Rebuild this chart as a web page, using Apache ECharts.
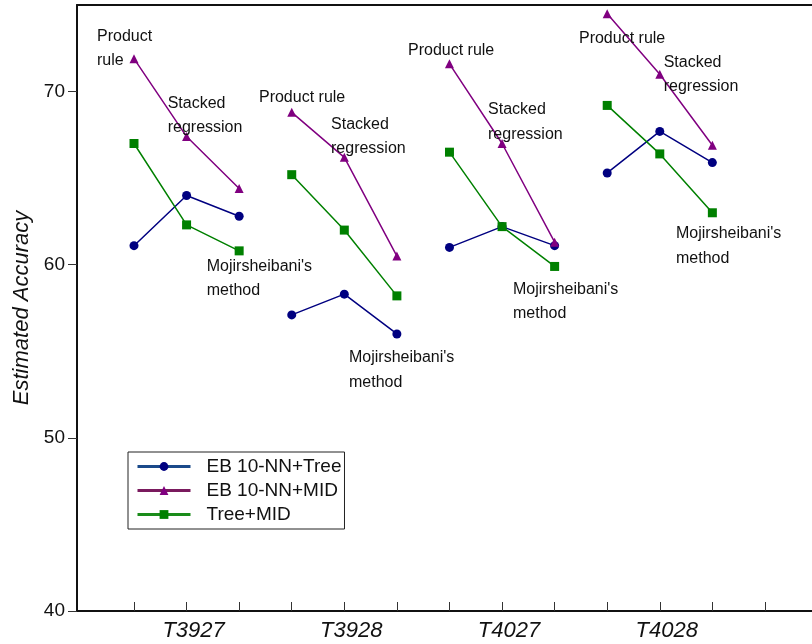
<!DOCTYPE html>
<html><head><meta charset="utf-8">
<script src="https://cdn.jsdelivr.net/npm/echarts@6/dist/echarts.min.js"></script>
<style>html,body{margin:0;padding:0;background:#fff}#c{width:812px;height:644px}</style>
</head><body><div id="c"></div>
<script>
// ---- data ----
const groups = ['T3927', 'T3928', 'T4027', 'T4028'];
const methods = ['Product rule', 'Stacked regression', "Mojirsheibani's method"];
const seriesNames = ['EB 10-NN+Tree', 'EB 10-NN+MID', 'Tree+MID'];
// values per group: [Product rule, Stacked regression, Mojirsheibani's method]
const ebTree  = [61.1, 64.0, 62.8,  57.1, 58.3, 56.0,  61.0, 62.2, 61.1,  65.3, 67.7, 65.9];
const ebMid   = [71.9, 67.4, 64.4,  68.8, 66.2, 60.5,  71.6, 67.0, 61.3,  74.5, 71.0, 66.9];
const treeMid = [67.0, 62.3, 60.8,  65.2, 62.0, 58.2,  66.5, 62.2, 59.9,  69.2, 66.4, 63.0];
const yTicks = [40, 50, 60, 70];
const xTickPositions = [1,2,3,4,5,6,7,8,9,10,11,12,13];
const groupLabelPositions = [2, 5, 8, 11];
// annotation text anchored (top-left) in data units
const annotations = [
  [0.296, 74.00, 'Product\nrule'],
  [1.641, 70.13, 'Stacked\nregression'],
  [2.383, 60.74, "Mojirsheibani's\nmethod"],
  [3.377, 70.48, 'Product rule'],
  [4.747, 68.92, 'Stacked\nregression'],
  [5.089, 55.45, "Mojirsheibani's\nmethod"],
  [6.211, 73.19, 'Product rule'],
  [7.733, 69.78, 'Stacked\nregression'],
  [8.208, 59.41, "Mojirsheibani's\nmethod"],
  [9.463, 73.86, 'Product rule'],
  [11.074, 72.50, 'Stacked\nregression'],
  [11.308, 62.62, "Mojirsheibani's\nmethod"]
];

// ---- build ----
function toData(vals) {
  const out = [];
  groups.forEach((g, gi) => {
    methods.forEach((m, k) => out.push([gi * 3 + k + 1, vals[gi * 3 + k]]));
    out.push([gi * 3 + 3.5, '-']);
  });
  return out;
}
const FONT = '"Liberation Sans", Arial, sans-serif';
const colors = ['#000080', '#800080', '#008000'];
const legendLineColors = ['#1b4a8a', '#7a1a5e', '#1a8c1a'];
const symbols = ['circle', 'triangle', 'rect'];
const symSizes = [9, 9, 9];
const allVals = [ebTree, ebMid, treeMid];

const chart = echarts.init(document.getElementById('c'));
const series = seriesNames.map((n, i) => ({
  name: n, type: 'line', data: toData(allVals[i]),
  connectNulls: false, symbol: symbols[i], symbolSize: symSizes[i],
  lineStyle: { color: colors[i], width: 1.5 },
  itemStyle: { color: colors[i] },
  emphasis: { disabled: true }, z: 3 + i
}));
series.push({
  name: 'notes', type: 'scatter', symbolSize: 0, silent: true, z: 10,
  itemStyle: { opacity: 1 },
  data: annotations.map(a => ({ value: [a[0], a[1]], name: a[2] })),
  label: {
    show: true, position: [0, 0], offset: [0, 2], align: 'left', verticalAlign: 'top',
    formatter: p => p.name, fontFamily: FONT, fontSize: 16, lineHeight: 24.5, color: '#111', opacity: 1
  }
});

chart.setOption({
  animation: false,
  backgroundColor: '#fff',
  grid: { left: 77, right: 0, top: 5, bottom: 33, containLabel: false, outerBoundsMode: 'none' },
  legend: {
    orient: 'vertical', left: 128, top: 452,
    data: seriesNames.map((n, i) => ({ name: n, lineStyle: { color: legendLineColors[i], width: 3 } })),
    itemWidth: 53, itemHeight: 11, itemGap: 5,
    padding: [5, 3, 5, 8],
    borderColor: '#222', borderWidth: 1, backgroundColor: '#fff',
    textStyle: { fontFamily: FONT, fontSize: 19, color: '#111', padding: [0, 0, 0, 11] },
    selectedMode: false
  },
  xAxis: [{
    type: 'value', min: -0.084, max: 13.895, position: 'bottom',
    axisLine: { show: true, onZero: false, lineStyle: { color: '#111', width: 2 } },
    axisTick: { show: true, inside: true, length: 9, customValues: xTickPositions, lineStyle: { color: '#333', width: 1 } },
    axisLabel: {
      customValues: groupLabelPositions, margin: 9, padding: [0, 0, 0, 14],
      formatter: v => groups[groupLabelPositions.indexOf(Math.round(v))] || '',
      fontFamily: FONT, fontSize: 22, fontStyle: 'italic', color: '#111'
    },
    splitLine: { show: false }
  }, {
    type: 'value', min: -0.084, max: 13.895, position: 'top',
    axisLine: { show: true, onZero: false, lineStyle: { color: '#111', width: 2 } },
    axisTick: { show: false }, axisLabel: { show: false }, splitLine: { show: false }
  }],
  yAxis: {
    type: 'value', min: 40, max: 75,
    name: 'Estimated Accuracy', nameLocation: 'middle', nameGap: 39,
    nameTextStyle: { fontFamily: FONT, fontSize: 22, fontStyle: 'italic', color: '#111' },
    axisLine: { show: true, onZero: false, lineStyle: { color: '#111', width: 2 } },
    axisTick: { show: true, inside: false, length: 9, customValues: yTicks, lineStyle: { color: '#333', width: 1 } },
    axisLabel: { customValues: yTicks, margin: 12, fontFamily: FONT, fontSize: 19, color: '#111' },
    splitLine: { show: false }
  },
  series: series
});
</script>
</body></html>
